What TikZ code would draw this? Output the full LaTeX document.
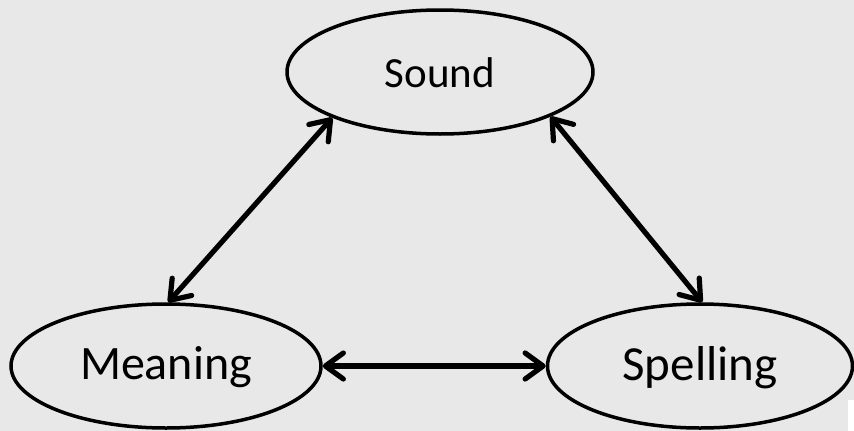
\documentclass[tikz,border=0pt]{standalone}
\usepackage{fontspec}
\setmainfont{Carlito}
\usetikzlibrary{shapes.geometric,arrows.meta}
\definecolor{bggray}{HTML}{E8E8E8}
\begin{document}
\begin{tikzpicture}[x=1pt,y=-1pt,
  oval/.style={ellipse, draw=black, line width=3.5pt, fill=bggray, inner sep=0pt, text depth=0pt, minimum height=124pt},
  barb/.tip={Straight Barb[length=18pt,width=26pt,round]},
  link/.style={line width=5.2pt, line cap=round, barb-barb}]
\useasboundingbox (0,0) rectangle (854,431);
\fill[bggray] (0,0) rectangle (854,431);
\fill[white] (848,400) rectangle (854,431);
\node[oval, minimum width=306pt, text height=30pt, font=\fontsize{43}{51}\selectfont] (sound) at (440,72) {Sound};
\node[oval, minimum width=310pt, text height=26pt, font=\fontsize{48}{58}\selectfont] (meaning) at (166,366) {Meaning};
\node[oval, minimum width=305pt, text height=28pt, font=\fontsize{49}{59}\selectfont] (spelling) at (700,366) {Spelling};
\draw[link] (sound.203) -- (meaning.88);
\draw[link] (sound.338) -- (spelling.88);
\draw[link] (meaning) -- (spelling);
\end{tikzpicture}
\end{document}
